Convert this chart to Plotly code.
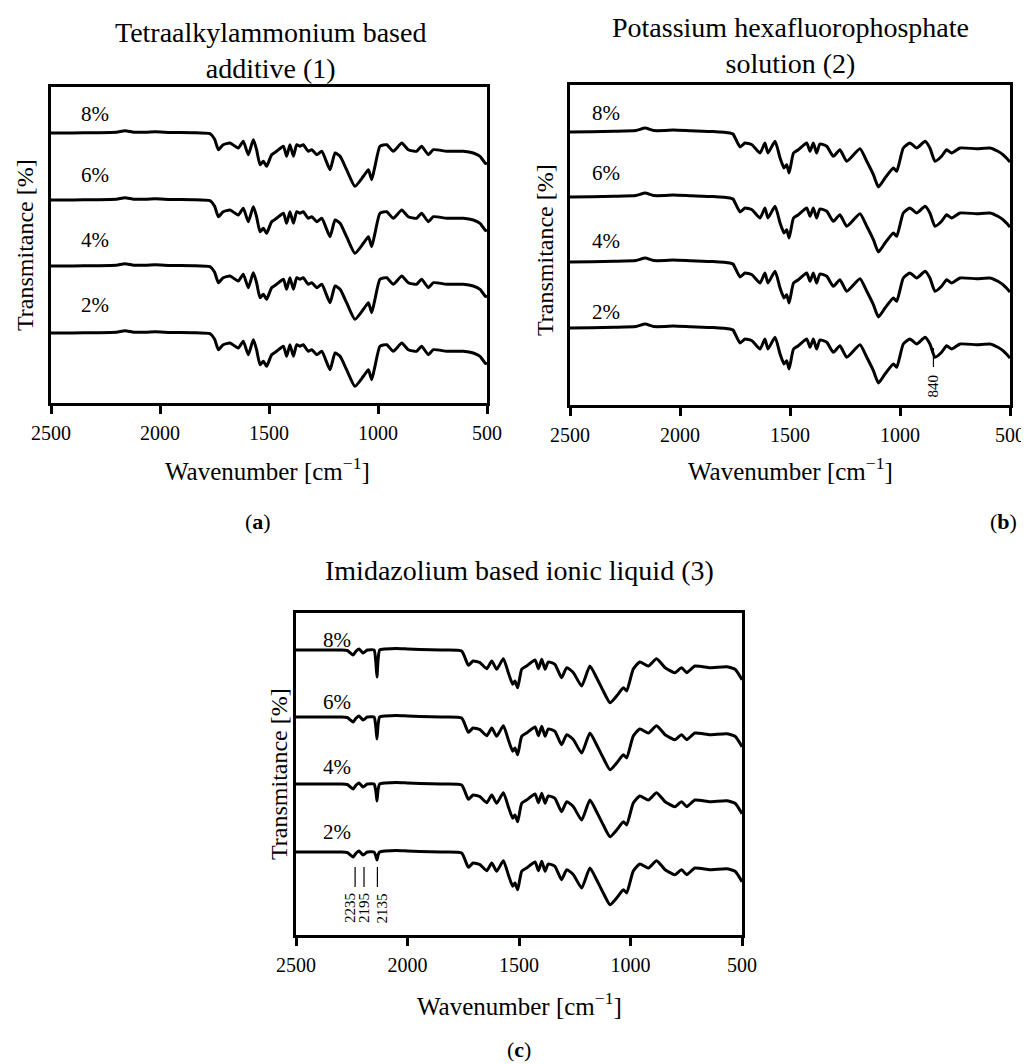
import plotly.graph_objects as go

# ---------------- data ----------------
concentrations = ["2%", "4%", "6%", "8%"]
tick_values = [2500, 2000, 1500, 1000, 500]

# Panel (a) Tetraalkylammonium based additive: wavenumber [cm-1] and relative transmittance
a_wn = [2500, 2400, 2300, 2200, 2161, 2120, 2060, 2023, 1950, 1850, 1771, 1750, 1732, 1710, 1679,
        1641, 1618, 1595, 1572, 1557, 1541, 1526, 1511, 1488, 1465, 1434, 1419, 1404, 1388, 1373,
        1358, 1343, 1320, 1304, 1281, 1258, 1220, 1197, 1174, 1144, 1106, 1067, 1044, 1029, 1014,
        991, 960, 930, 891, 861, 823, 800, 769, 746, 685, 609, 563, 532, 509, 500]
a_t = [0, 0, 0.3, 0.8, 2.3, 0.8, 0.8, 1.2, 0.5, 0.3, -0.7, -6, -16.7, -11.7, -10,
       -15, -8.3, -21.7, -6.7, -16.7, -31.7, -28.3, -33.3, -21.7, -18.3, -13.3, -23.3, -11.7, -23.3, -11.7,
       -13.3, -11.7, -18.3, -16.7, -21.7, -18.3, -36.7, -20, -23.3, -36.7, -53.3, -43.3, -36.7, -46.7, -33.3,
       -13.3, -11.7, -18.3, -10, -16.7, -18.3, -13.3, -21.7, -16.7, -18.3, -18.3, -20, -23.3, -30, -31]
a_offsets = [70, 137, 203, 270]

# Panel (b) Potassium hexafluorophosphate solution
b_wn = [2500, 2400, 2300, 2200, 2159, 2120, 2070, 2030, 1950, 1850, 1773, 1759, 1727, 1705, 1673,
        1636, 1614, 1600, 1568, 1545, 1527, 1515, 1504, 1484, 1462, 1424, 1409, 1394, 1379, 1364,
        1333, 1303, 1273, 1242, 1182, 1151, 1121, 1098, 1068, 1030, 1015, 985, 955, 924, 886,
        864, 841, 811, 788, 765, 727, 652, 591, 555, 532, 505, 500]
b_t = [0, 0.3, 0.7, 1.5, 4, 1.5, 1.5, 2, 1.3, 0.5, -1, -2, -15, -11, -12.7,
       -21, -11, -21, -9.3, -26, -36, -32.7, -41, -21, -17.7, -11, -19.3, -11, -21, -12,
       -14.3, -24.3, -17.7, -29.3, -16.7, -29.3, -42.7, -55, -46, -36, -39.3, -16, -11, -16, -9.3,
       -16, -29.3, -24.3, -17.7, -21, -16, -16.7, -16, -19.3, -22.7, -28.7, -30]
b_offsets = [77, 143, 208, 273]

# Panel (c) Imidazolium based ionic liquid
c_wn = [2500, 2400, 2300, 2270, 2244, 2230, 2217, 2199, 2180, 2150, 2142, 2137, 2132, 2125, 2100,
        2050, 2000, 1944, 1850, 1757, 1727, 1706, 1675, 1645, 1622, 1600, 1570, 1548, 1528, 1518,
        1506, 1488, 1466, 1428, 1413, 1398, 1383, 1369, 1339, 1309, 1286, 1256, 1219, 1182, 1152,
        1122, 1092, 1062, 1032, 1017, 988, 958, 920, 883, 845, 801, 771, 748, 711, 644,
        569, 531, 501, 500]
c_t = [0, 0, 0, -0.5, -5, -1, 1, -3, 0, 0, -12, -27, -10, 0, 1,
       1.5, 1, 0.5, 0, -1, -15.3, -11, -12.7, -18.7, -11, -19.3, -8.7, -22.7, -34.3, -31,
       -37.7, -19.3, -16, -10, -18.7, -9.3, -19.3, -12, -14.3, -27.7, -17.7, -22.7, -36, -16, -27.7,
       -41, -52.7, -46, -37.7, -41, -19.3, -12, -16, -8.7, -17.7, -22.7, -17.7, -22.7, -16, -17.7,
       -16.7, -19.3, -29.3, -30]
# depth of the 2142/2137/2132 cm-1 band for 2%, 4%, 6%, 8%
c_dip_2 = [-4, -8, -3]
c_dip_4 = [-7, -17, -6]
c_dip_6 = [-10, -22, -8]
c_dip_8 = [-12, -27, -10]
c_offsets = [83, 151, 218, 285]

b_marker = [840]
c_markers = [2235, 2195, 2135]

# ---------------- layout helpers ----------------
PAGE_W, PAGE_H = 1029, 1064
BODY = 8  # default page margin around the plot div
W, H = PAGE_W - BODY, PAGE_H - BODY
FONT = "Liberation Serif, Times New Roman, serif"


def fx(x):
    return (x - BODY) / W


def fy(y):
    return 1 - (y - BODY) / H


panels = {
    "a": dict(x0=51, x1=487, y0=87, y1=403),
    "b": dict(x0=570, x1=1010, y0=85, y1=405),
    "c": dict(x0=296, x1=742, y0=613, y1=935),
}

fig = go.Figure()


def add_curves(wn, spectra, offsets, xa, ya):
    for spec, off, name in zip(spectra, offsets, concentrations):
        fig.add_trace(go.Scatter(
            x=wn, y=[v + off for v in spec], mode="lines", name=name,
            line=dict(color="black", width=3, shape="spline", smoothing=0.5),
            xaxis=xa, yaxis=ya, showlegend=False, hoverinfo="skip"))


add_curves(a_wn, [a_t] * 4, a_offsets, "x", "y")
add_curves(b_wn, [b_t] * 4, b_offsets, "x2", "y2")
c_spectra = []
for dip in (c_dip_2, c_dip_4, c_dip_6, c_dip_8):
    c_spectra.append(c_t[:10] + dip + c_t[13:])
add_curves(c_wn, c_spectra, c_offsets, "x3", "y3")

axis_common = dict(showline=True, mirror=True, linewidth=2.5, linecolor="black",
                   showgrid=False, zeroline=False, automargin=False)

layout = dict(width=W, height=H, margin=dict(l=0, r=0, t=0, b=0, autoexpand=False),
              paper_bgcolor="white", plot_bgcolor="white",
              font=dict(family=FONT, color="black"))

for i, key in enumerate(["a", "b", "c"]):
    p = panels[key]
    sfx = "" if i == 0 else str(i + 1)
    layout["xaxis" + sfx] = dict(
        domain=[fx(p["x0"]), fx(p["x1"])], range=[2500, 500],
        tickvals=tick_values, ticks="outside", ticklen=8, tickwidth=2.5, tickcolor="black",
        tickfont=dict(family=FONT, size=20, color="black"), ticklabelstandoff=2,
        anchor="y" + sfx, **axis_common)
    layout["yaxis" + sfx] = dict(
        domain=[fy(p["y1"]), fy(p["y0"])], range=[0, p["y1"] - p["y0"]],
        showticklabels=False, ticks="", anchor="x" + sfx, **axis_common)

fig.update_layout(**layout)

ann = []


def text(x, y, s, size, angle=0):
    ann.append(dict(x=fx(x), y=fy(y), xref="paper", yref="paper", text=s, showarrow=False,
                    textangle=angle, font=dict(family=FONT, size=size, color="black"),
                    xanchor="center", yanchor="middle"))


# titles
text(270, 50, "Tetraalkylammonium based<br>additive (1)", 28)
text(790, 45, "Potassium hexafluorophosphate<br>solution (2)", 28)
text(519, 570, "Imidazolium based ionic liquid (3)", 28)
# axis titles
text(25, 245, "Transmitance [%]", 24, -90)
text(545, 250, "Transmitance [%]", 24, -90)
text(279, 774, "Transmitance [%]", 24, -90)
for cx, cy in [(267, 469), (790, 469), (519, 1004)]:
    text(cx, cy, "Wavenumber [cm<sup>−1</sup>]", 25)
# panel letters
text(258, 521, "(<b>a</b>)", 22)
text(1003, 521, "(<b>b</b>)", 22)
text(519, 1049, "(<b>c</b>)", 22)

# concentration labels (data coordinates)
label_pos = {
    "x": (2300, [98, 163, 228, 289]),
    "x2": (2336, [93, 164, 232, 292]),
    "x3": (2316, [103, 168, 233, 295]),
}
for xa, (xw, ys) in label_pos.items():
    ya = xa.replace("x", "y")
    for name, yv in zip(concentrations, ys):
        ann.append(dict(x=xw, y=yv, xref=xa, yref=ya, text=name, showarrow=False,
                        font=dict(family=FONT, size=21, color="black"),
                        xanchor="center", yanchor="middle"))

# peak markers
shapes = []
for wv in b_marker:
    shapes.append(dict(type="line", xref="x2", yref="y2", x0=wv + 8, x1=wv + 8, y0=38, y1=57,
                       line=dict(color="black", width=1.2)))
    ann.append(dict(x=wv + 8, y=19, xref="x2", yref="y2", text=str(wv), showarrow=False,
                    textangle=-90, font=dict(family=FONT, size=15, color="black"),
                    xanchor="center", yanchor="middle"))
for wv, sh in zip(c_markers, [-5, 0, 5]):
    shapes.append(dict(type="line", xref="x3", yref="y3", x0=wv, x1=wv, y0=48, y1=68,
                       line=dict(color="black", width=1.2)))
    ann.append(dict(x=wv, y=27, xref="x3", yref="y3", text=str(wv), showarrow=False,
                    textangle=-90, xshift=sh, font=dict(family=FONT, size=15, color="black"),
                    xanchor="center", yanchor="middle"))

fig.update_layout(annotations=ann, shapes=shapes)
fig.write_html("out.html")
